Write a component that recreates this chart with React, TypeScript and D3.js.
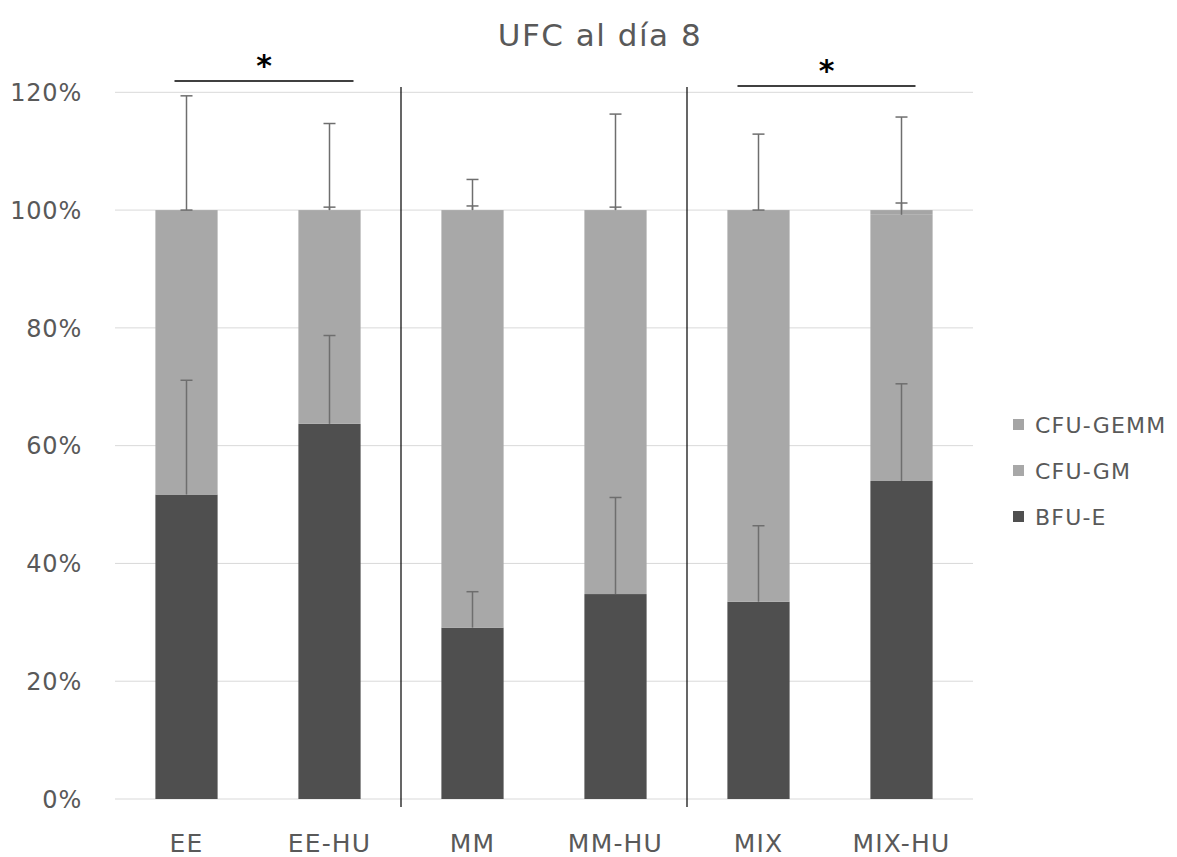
import React, { useEffect } from 'react';
import * as d3 from 'd3';

const categories = ['EE', 'EE-HU', 'MM', 'MM-HU', 'MIX', 'MIX-HU'];
const bfuE = [51.7, 63.7, 29.1, 34.8, 33.5, 54.0];
const cfuGM = [48.3, 36.3, 70.9, 65.2, 66.5, 45.2];
const cfuGEMM = [0, 0, 0, 0, 0, 0.8];
const bfuEErr = [19.4, 15.0, 6.1, 16.4, 12.9, 16.5];
const cfuGMErr = [0, 0.5, 0.7, 0.5, 0, 2.0];
const cfuGEMMErr = [19.4, 14.7, 5.2, 16.3, 12.9, 15.8];
const yTicks = [0, 20, 40, 60, 80, 100, 120];
const legendLabels = ['CFU-GEMM', 'CFU-GM', 'BFU-E'];
const sigPairs = [['EE', 'EE-HU'], ['MIX', 'MIX-HU']];

const W = 1177;
const H = 857;
const font = '"DejaVu Sans", sans-serif';
const textColor = '#595959';
const colors = { bfu: '#4f4f4f', gm: '#a8a8a8', gemm: '#a5a5a5' };

const App = () => {
  useEffect(() => {
    document.body.style.margin = '0';
  }, []);

  const x = d3.scaleBand().domain(categories).range([115, 973]).paddingInner(0.565).paddingOuter(0.2825);
  const y = d3.scaleLinear().domain([0, 120]).range([799, 92.3]);
  const bw = x.bandwidth();
  const step = x.step();

  const stacks = categories.map((c, i) => {
    const b = bfuE[i];
    const g = b + cfuGM[i];
    const t = g + cfuGEMM[i];
    return { c, b, g, t, i };
  });

  const errBar = (cx: number, from: number, len: number, key: string) => (
    <g key={key} stroke="#6e6e6e" strokeWidth={1.5}>
      <line x1={cx} x2={cx} y1={y(from)} y2={y(from + len)} />
      <line x1={cx - 6} x2={cx + 6} y1={y(from + len)} y2={y(from + len)} />
    </g>
  );

  return (
    <svg width={W} height={H} style={{ display: 'block', background: '#fff' }} fontFamily={font}>
      <text x={600} y={46} textAnchor="middle" fontSize={31} letterSpacing={1.5} fill={textColor}>UFC al día 8</text>

      {yTicks.map(t => (
        <g key={t}>
          <line x1={115} x2={973} y1={y(t)} y2={y(t)} stroke="#d9d9d9" strokeWidth={1} />
          <text x={82} y={y(t)} dy="0.36em" textAnchor="end" fontSize={24} letterSpacing={0.8} fill={textColor}>{t}%</text>
        </g>
      ))}

      {stacks.map(s => {
        const x0 = x(s.c) as number;
        return (
          <g key={s.c}>
            <rect x={x0} width={bw} y={y(s.b)} height={y(0) - y(s.b)} fill={colors.bfu} />
            <rect x={x0} width={bw} y={y(s.g)} height={y(s.b) - y(s.g)} fill={colors.gm} />
            {cfuGEMM[s.i] > 0 && (
              <rect x={x0} width={bw} y={y(s.t)} height={y(s.g) - y(s.t)} fill={colors.gemm} />
            )}
          </g>
        );
      })}

      {stacks.map(s => {
        const cx = (x(s.c) as number) + bw / 2;
        return (
          <g key={'e' + s.c}>
            {errBar(cx, s.b, bfuEErr[s.i], 'b')}
            {errBar(cx, s.g, cfuGMErr[s.i], 'g')}
            {errBar(cx, s.t, cfuGEMMErr[s.i], 't')}
          </g>
        );
      })}

      {[2, 4].map(k => {
        const sx = 115 + k * step;
        return <line key={k} x1={sx} x2={sx} y1={87} y2={807} stroke="#000" strokeWidth={1.2} />;
      })}

      {sigPairs.map(([a, b], k) => {
        const x1 = (x(a) as number) + bw / 2 + (k === 0 ? -12 : -21);
        const x2 = (x(b) as number) + bw / 2 + (k === 0 ? 24 : 14);
        const ly = k === 0 ? 81 : 86;
        return (
          <g key={a}>
            <line x1={x1} x2={x2} y1={ly} y2={ly} stroke="#000" strokeWidth={1.5} />
            <text x={(x1 + x2) / 2} y={ly - 5} textAnchor="middle" fontSize={30} fontWeight="bold" fill="#000">*</text>
          </g>
        );
      })}

      {categories.map(c => (
        <text key={c} x={(x(c) as number) + bw / 2} y={852} textAnchor="middle" fontSize={25} letterSpacing={1.2} fill={textColor}>{c}</text>
      ))}

      {legendLabels.map((l, i) => (
        <g key={l} transform={`translate(1013, ${425 + i * 46})`}>
          <rect x={0} y={-6} width={11} height={11} fill={i === 2 ? colors.bfu : i === 1 ? colors.gm : colors.gemm} />
          <text x={22} y={0} dy="0.36em" fontSize={22} letterSpacing={1.2} fill={textColor}>{l}</text>
        </g>
      ))}
    </svg>
  );
};

export default App;
